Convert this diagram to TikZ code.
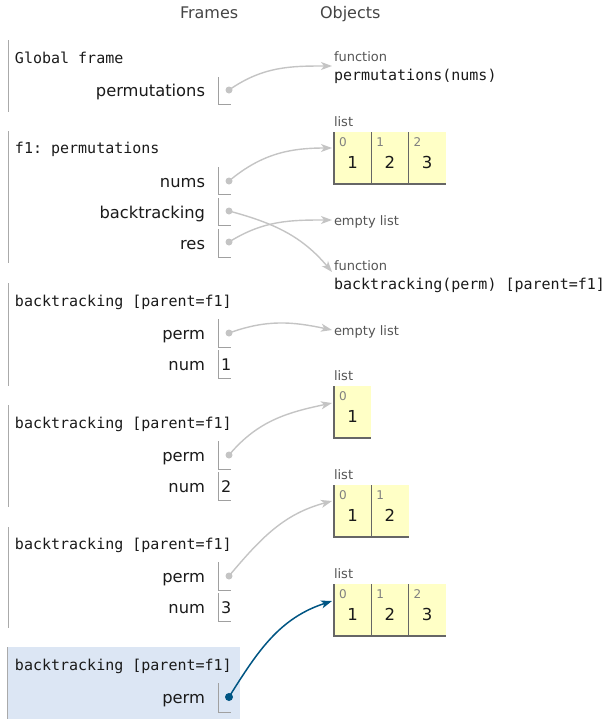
\documentclass[tikz,border=0pt]{standalone}
\usepackage{fontspec}
\setmainfont{DejaVu Sans}
\setmonofont{DejaVu Sans Mono}
\usetikzlibrary{arrows.meta}

\definecolor{ink}{HTML}{1A1A1A}
\definecolor{hdr}{HTML}{444444}
\definecolor{soft}{HTML}{555555}
\definecolor{idxgray}{HTML}{808080}
\definecolor{barcol}{HTML}{AAAAAA}
\definecolor{slotcol}{HTML}{A0A0A0}
\definecolor{lightptr}{HTML}{C4C4C4}
\definecolor{darkptr}{HTML}{005583}
\definecolor{listfill}{HTML}{FFFFC6}
\definecolor{listrule}{HTML}{666666}
\definecolor{hilite}{HTML}{DCE6F4}

% L-shaped value slot of a variable: top y, bottom y
\newcommand{\varslot}[2]{\draw[slotline] (218.5,#1) -- (218.5,#2) -- (230.5,#2);}

% Python list drawn as a row of cells: name, top y, values
\newcommand{\pylist}[3]{%
  \foreach \v [count=\n] in {#3} {\xdef\ncells{\n}}
  \fill[listfill] (334,#2) rectangle ({334+37.3*\ncells},{#2+52});
  \foreach \v [count=\n from 0] in {#3} {
    \pgfmathsetmacro\xl{334+37.3*\n}
    \draw[listrule] (\xl,#2) -- (\xl,{#2+52}) -- ({\xl+37.3},{#2+52});
    \node[idx] (#1-i\n) at ({\xl+5},{#2+14}) {\n};
    \node[val] (#1-v\n) at ({\xl+18.6},{#2+36}) {\v};
  }
  \node[objlabel] (#1) at (334,{#2-6}) {list};
}

\begin{document}
\begin{tikzpicture}[x=1pt,y=-1pt,
  every node/.style={inner sep=0pt, outer sep=0pt},
  header/.style={anchor=base west, font=\fontsize{16}{19}\selectfont, text=hdr},
  frametitle/.style={anchor=base west, font=\ttfamily\fontsize{15}{18}\selectfont, text=ink},
  varname/.style={anchor=base east, font=\fontsize{16.3}{19}\selectfont, text=ink},
  numval/.style={anchor=base west, font=\fontsize{16}{19}\selectfont, text=ink},
  objlabel/.style={anchor=base west, font=\fontsize{13}{15}\selectfont, text=soft},
  code/.style={anchor=base west, font=\ttfamily\fontsize{15}{18}\selectfont, text=ink},
  idx/.style={anchor=base west, font=\fontsize{12}{14}\selectfont, text=idxgray},
  val/.style={anchor=base, font=\fontsize{16.5}{19}\selectfont, text=ink},
  framebar/.style={draw=barcol, line width=1pt},
  slotline/.style={draw=slotcol, line width=1pt},
  listrule/.style={draw=listrule, line width=1.2pt},
  dot/.style={circle, fill=lightptr, minimum size=7pt},
  activedot/.style={circle, fill=darkptr, minimum size=8pt},
  ptr/.style={draw=lightptr, line width=1.4pt,
    -{Stealth[length=11pt,width=8pt,inset=3pt]}},
  activeptr/.style={draw=darkptr, line width=1.5pt,
    -{Stealth[length=11pt,width=8pt,inset=3pt]}},
]
\useasboundingbox (0,0) rectangle (612,726);

% column headers
\node[header] (hframes) at (180,18) {Frames};
\node[header] (hobjects) at (320,18) {Objects};

% ---------- frames ----------
% global frame
\draw[framebar] (8.5,40) -- (8.5,112);
\node[frametitle] (tglobal) at (15,63) {Global frame};
\node[varname] (vgperm) at (205,96) {permutations};
\varslot{77}{104}
\node[dot] (dgperm) at (229,90) {};

% f1: permutations
\draw[framebar] (8.5,131) -- (8.5,263);
\node[frametitle] (tf1) at (15,153) {f1: permutations};
\node[varname] (vnums) at (205,187) {nums};
\varslot{167}{194}
\node[dot] (dnums) at (229,181) {};
\node[varname] (vbt) at (205,218) {backtracking};
\varslot{198}{225}
\node[dot] (dbt) at (229,211) {};
\node[varname] (vres) at (205,249) {res};
\varslot{229}{257}
\node[dot] (dres) at (229,242) {};

% backtracking frame, num = 1
\draw[framebar] (8.5,283) -- (8.5,386);
\node[frametitle] (tb1) at (15,306) {backtracking [parent=f1]};
\node[varname] (vperm1) at (205,339) {perm};
\varslot{319}{347}
\node[dot] (dperm1) at (229,333) {};
\node[varname] (vnum1) at (205,370) {num};
\varslot{350}{378}
\node[numval] (nnum1) at (221,370) {1};

% backtracking frame, num = 2
\draw[framebar] (8.5,405) -- (8.5,507);
\node[frametitle] (tb2) at (15,428) {backtracking [parent=f1]};
\node[varname] (vperm2) at (205,461) {perm};
\varslot{441}{469}
\node[dot] (dperm2) at (229,455) {};
\node[varname] (vnum2) at (205,492) {num};
\varslot{472}{500}
\node[numval] (nnum2) at (221,492) {2};

% backtracking frame, num = 3
\draw[framebar] (8.5,527) -- (8.5,628);
\node[frametitle] (tb3) at (15,549) {backtracking [parent=f1]};
\node[varname] (vperm3) at (205,582) {perm};
\varslot{562}{590}
\node[dot] (dperm3) at (229,576) {};
\node[varname] (vnum3) at (205,613) {num};
\varslot{593}{621}
\node[numval] (nnum3) at (221,613) {3};

% active backtracking frame
\fill[hilite] (7,647) rectangle (240,719);
\draw[framebar] (7.5,647) -- (7.5,719);
\node[frametitle] (tb4) at (15,670) {backtracking [parent=f1]};
\node[varname] (vperm4) at (205,703) {perm};
\varslot{683}{712}
\node[activedot] (dperm4) at (229,697) {};

% ---------- objects ----------
\node[objlabel] (lfn1) at (334,61) {function};
\node[code] (fn1) at (334,80) {permutations(nums)};

\pylist{lnums}{132}{1,2,3}

\node[objlabel] (empty1) at (334,225) {empty list};

\node[objlabel] (lfn2) at (334,270) {function};
\node[code] (fn2) at (334,289) {backtracking(perm) [parent=f1]};

\node[objlabel] (empty2) at (334,335) {empty list};

\pylist{lone}{386}{1}
\pylist{ltwo}{485}{1,2}
\pylist{lthree}{584}{1,2,3}

% pointer targets
\coordinate (tfn1) at (332,66);
\coordinate (tnums) at (332,148);
\coordinate (tempty1) at (332,220);
\coordinate (tfn2) at (332,272);
\coordinate (tempty2) at (332,330);
\coordinate (tone) at (332,403);
\coordinate (ttwo) at (332,501);
\coordinate (tthree) at (332,601);

% ---------- pointers ----------
\draw[ptr] (dgperm.center) to[out=35,in=180] (tfn1);
\draw[ptr] (dnums.center) to[out=40,in=180] (tnums);
\draw[ptr] (dbt.center) to[out=-15,in=130] (tfn2);
\draw[ptr] (dres.center) to[out=32,in=180] (tempty1);
\draw[ptr] (dperm1.center) to[out=20,in=168] (tempty2);
\draw[ptr] (dperm2.center) to[out=50,in=192] (tone);
\draw[ptr] (dperm3.center) to[out=50,in=195] (ttwo);
\draw[activeptr] (dperm4.center) to[out=58,in=198] (tthree);
\end{tikzpicture}
\end{document}
